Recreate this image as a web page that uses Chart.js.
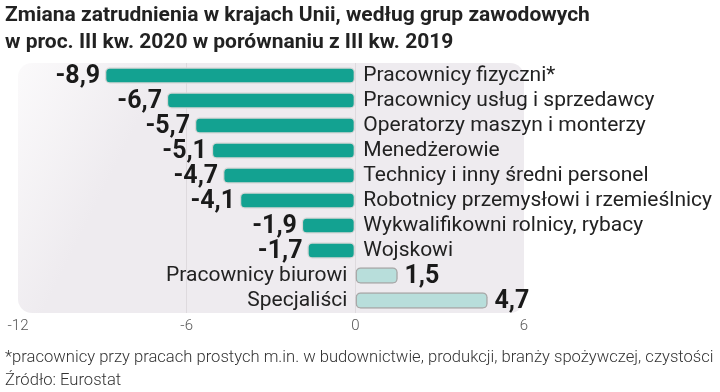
<!DOCTYPE html>
<html>
<head>
<meta charset="utf-8">
<script src="https://cdn.jsdelivr.net/npm/chart.js@4"></script>
<style>
  body { margin: 0; background: #fff; }
  #wrap { position: relative; width: 720px; height: 392px; overflow: hidden; }
  #chart { position: absolute; left: 0; top: 0; }
  .title { position: absolute; left: 5px; font-family: Roboto, sans-serif; font-weight: 700; font-size: 21px; color: #222; white-space: nowrap; }
  .note { position: absolute; left: 5px; font-family: Roboto, sans-serif; font-weight: 300; font-size: 16.6px; color: #333; white-space: nowrap; }
</style>
</head>
<body>
<div id="wrap">
  <canvas id="chart" width="720" height="392"></canvas>
  <div class="title" style="top:2px">Zmiana zatrudnienia w krajach Unii, według grup zawodowych</div>
  <div class="title" style="top:29px">w proc. III kw. 2020 w porównaniu z III kw. 2019</div>
  <div class="note" style="top:347px">*pracownicy przy pracach prostych m.in. w budownictwie, produkcji, branży spożywczej, czystości</div>
  <div class="note" style="top:370px">Źródło: Eurostat</div>
</div>
<script>
// data
const categories = [
  "Pracownicy fizyczni*",
  "Pracownicy usług i sprzedawcy",
  "Operatorzy maszyn i monterzy",
  "Menedżerowie",
  "Technicy i inny średni personel",
  "Robotnicy przemysłowi i rzemieślnicy",
  "Wykwalifikowni rolnicy, rybacy",
  "Wojskowi",
  "Pracownicy biurowi",
  "Specjaliści",
];
const values = [-8.9, -6.7, -5.7, -5.1, -4.7, -4.1, -1.9, -1.7, 1.5, 4.7];
const xTicks = [-12, -6, 0, 6];

const negColor = "#13a291";
const posColor = "#b8dedb";

// gray rounded panel behind the bars
const panel = {
  id: "panel",
  beforeDraw(chart) {
    const { ctx, chartArea: a } = chart;
    const g = ctx.createLinearGradient(a.left, a.top, a.left + 120, a.top + 60);
    g.addColorStop(0, "#fbfafb");
    g.addColorStop(1, "#eeebef");
    ctx.save();
    ctx.fillStyle = g;
    ctx.beginPath();
    ctx.roundRect(a.left, a.top, a.right - a.left, a.bottom - a.top, 14);
    ctx.fill();
    ctx.restore();
  },
};

// category names and values next to the bars
const labels = {
  id: "labels",
  afterDatasetsDraw(chart) {
    const { ctx } = chart;
    const meta = chart.getDatasetMeta(0);
    const zero = chart.scales.x.getPixelForValue(0);
    ctx.save();
    ctx.textBaseline = "middle";
    meta.data.forEach((bar, i) => {
      const v = values[i];
      const txt = v.toFixed(1).replace(".", ",");
      ctx.fillStyle = "#222";
      ctx.font = "400 21px Roboto";
      if (v < 0) {
        ctx.textAlign = "left";
        ctx.fillText(categories[i], zero + 8, bar.y);
      } else {
        ctx.textAlign = "right";
        ctx.fillText(categories[i], zero - 8, bar.y);
      }
      ctx.fillStyle = "#1a1a1a";
      ctx.font = "700 25px Roboto";
      if (v < 0) {
        ctx.textAlign = "right";
        ctx.fillText(txt, bar.x - 5, bar.y + 1);
      } else {
        ctx.textAlign = "left";
        ctx.fillText(txt, bar.x + 7, bar.y + 1);
      }
    });
    ctx.restore();
  },
};

new Chart(document.getElementById("chart"), {
  type: "bar",
  data: {
    labels: categories,
    datasets: [
      {
        data: values,
        backgroundColor: values.map((v) => (v < 0 ? negColor : posColor)),
        borderColor: values.map((v) => (v < 0 ? "#d6d6d6" : "#a8a8a8")),
        borderWidth: 1.5,
        borderSkipped: false,
        borderRadius: 5,
        barThickness: 16,
      },
    ],
  },
  options: {
    indexAxis: "y",
    responsive: false,
    animation: false,
    layout: { padding: { left: 18, right: 196, top: 63, bottom: 53 } },
    plugins: { legend: { display: false }, tooltip: { enabled: false } },
    scales: {
      y: { display: false },
      x: {
        min: xTicks[0],
        max: xTicks[xTicks.length - 1],
        afterFit: (s) => { s.height = 26; },
        ticks: {
          stepSize: xTicks[1] - xTicks[0],
          padding: 4,
          color: "#555",
          font: { family: "Roboto", weight: 300, size: 15 },
        },
        border: { display: false },
        grid: {
          drawTicks: false,
          color: (c) => (c.tick && (c.tick.value === -6 || c.tick.value === 0) ? "#dedade" : "rgba(0,0,0,0)"),
        },
      },
    },
  },
  plugins: [panel, labels],
});
</script>
</body>
</html>
